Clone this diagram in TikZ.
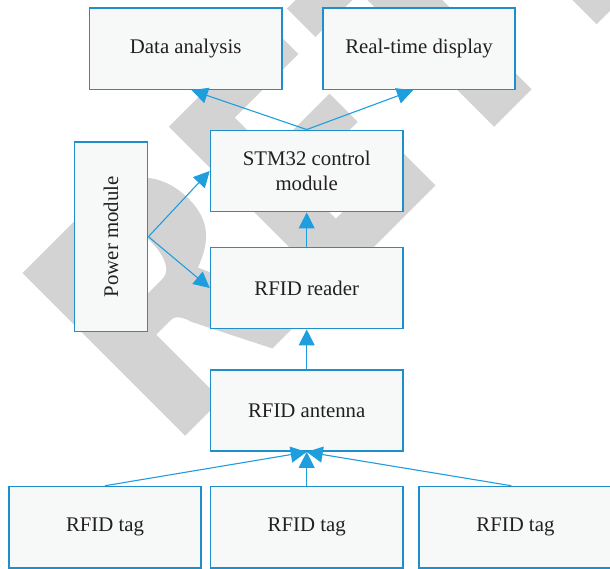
\documentclass[tikz,border=0pt]{standalone}
\usepackage{fontspec}
\setmainfont{Liberation Serif}
\usetikzlibrary{arrows.meta}
\definecolor{boxblue}{RGB}{33,142,204}
\definecolor{arrowblue}{RGB}{30,158,220}
\definecolor{boxfill}{RGB}{247,249,249}
\definecolor{wmgrey}{RGB}{211,211,211}
\definecolor{txtcol}{RGB}{35,31,32}
\begin{document}
\begin{tikzpicture}[x=1pt,y=1pt,
  block/.style={draw=boxblue, line width=1.6pt, fill=boxfill,
    minimum width=192.3pt, minimum height=81.3pt, inner sep=0pt,
    text=txtcol, font=\fontsize{20.8}{25}\selectfont, align=center},
  arr/.style={draw=arrowblue, line width=1.1pt, -{Triangle[length=16pt,width=16pt]}},
  wm/.style={fill=wmgrey, draw=none}
]
\useasboundingbox (0,0) rectangle (610,569);
% watermark
\begin{scope}
\clip (0,0) rectangle (610,569);
\begin{scope}[shift={(185.2,133.2)}, rotate=45]
  % R
  \path[wm, even odd rule] (0,0) -- (51,0) -- (51,92) -- (72,92)
     .. controls (80,92) and (83,82) .. (85.5,75) -- (123.5,0) -- (175,0) -- (128,110)
     .. controls (155,120) and (170,135) .. (170,165)
     .. controls (170,205) and (145,230) .. (105,230) -- (0,230) -- cycle
     (51,127) -- (95,127) .. controls (108,127) and (113,145) .. (113,161)
     .. controls (113,180) and (105,195) .. (90,195) -- (51,195) -- cycle;
  % E
  \path[wm] (207,0) -- (354,0) -- (354,47) -- (260,47) -- (260,100) -- (344,100)
     -- (344,140) -- (260,140) -- (260,190) -- (350,190) -- (350,230) -- (207,230) -- cycle;
  % T
  \path[wm] (437,0) -- (490,0) -- (490,190) -- (553,190) -- (553,230) -- (374,230)
     -- (374,190) -- (437,190) -- cycle;
  % R (second)
  \begin{scope}[shift={(582,0)}]
  \path[wm, even odd rule] (0,0) -- (51,0) -- (51,92) -- (72,92)
     .. controls (80,92) and (83,82) .. (85.5,75) -- (123.5,0) -- (175,0) -- (128,110)
     .. controls (155,120) and (170,135) .. (170,165)
     .. controls (170,205) and (145,230) .. (105,230) -- (0,230) -- cycle
     (51,127) -- (95,127) .. controls (108,127) and (113,145) .. (113,161)
     .. controls (113,180) and (105,195) .. (90,195) -- (51,195) -- cycle;
  \end{scope}
\end{scope}
\end{scope}
% boxes
\node[block] (da) at (185.7,520.2) {Data analysis};
\node[block] (rt) at (419,520.2) {Real-time display};
\node[block] (stm) at (306.7,398) {STM32 control\\module};
\node[block, minimum width=189.3pt, minimum height=73.3pt, rotate=90] (pw) at (111,332.3) {Power module};
\node[block] (rd) at (306.7,281) {RFID reader};
\node[block] (ant) at (306.7,158.5) {RFID antenna};
\node[block] (t1) at (105,41.8) {RFID tag};
\node[block] (t2) at (306.7,41.8) {RFID tag};
\node[block] (t3) at (515.4,41.8) {RFID tag};
% connectors
\draw[arr] (stm.north) -- ([xshift=6pt]da.south);
\draw[arr] (stm.north) -- ([xshift=-6pt]rt.south);
\draw[arr] (pw.south) -- (stm.west);
\draw[arr] (pw.south) -- (rd.west);
\draw[arr] (rd.north) -- (stm.south);
\draw[arr] (ant.north) -- (rd.south);
\draw[arr] (t1.north) -- (ant.south);
\draw[arr] (t2.north) -- (ant.south);
\draw[arr] ([xshift=-4pt]t3.north) -- (ant.south);
\end{tikzpicture}
\end{document}
